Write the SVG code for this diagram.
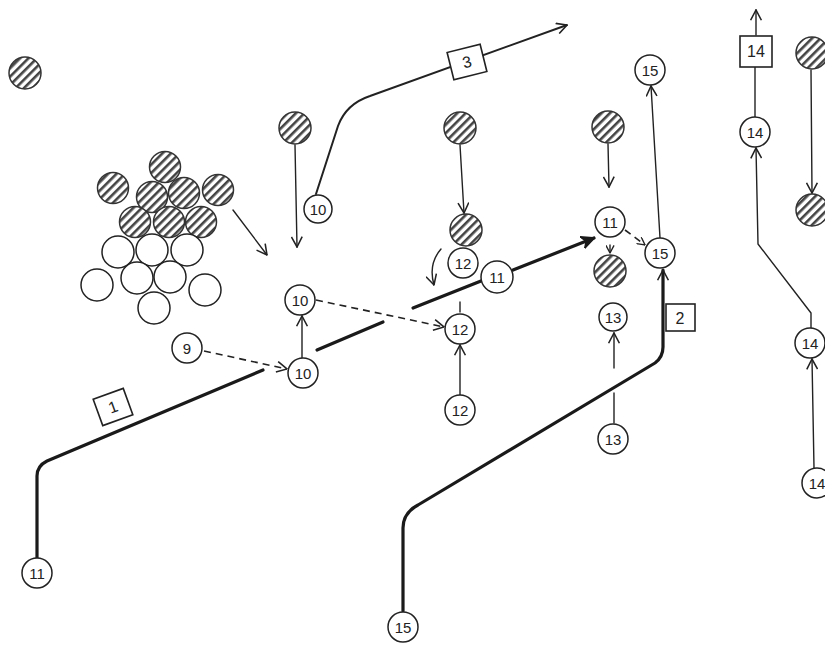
<svg xmlns="http://www.w3.org/2000/svg" width="825" height="650" viewBox="0 0 825 650">
  <style>
    .pl { fill: #fff; stroke: #222; stroke-width: 1.5; }
    .df { fill: url(#hatch); stroke: #333; stroke-width: 1.5; }
    .lb { font-family: "Liberation Sans", Arial, sans-serif; font-size: 15px; fill: #222; text-anchor: middle; dominant-baseline: central; }
    .bl { font-size: 16px; }
    .bx { fill: #fff; stroke: #222; stroke-width: 1.6; }
    .ln { fill: none; stroke: #222; stroke-width: 1.4; stroke-linecap: round; stroke-linejoin: round; }
    .md { fill: none; stroke: #222; stroke-width: 2; stroke-linecap: round; stroke-linejoin: round; }
    .tk { fill: none; stroke: #1a1a1a; stroke-width: 3.2; stroke-linecap: round; stroke-linejoin: round; }
    .ds { fill: none; stroke: #222; stroke-width: 1.6; stroke-dasharray: 7 5; }
  </style>
  <defs>
    <pattern id="hatch" width="6" height="6" patternUnits="userSpaceOnUse" patternTransform="rotate(45)">
      <rect width="6" height="6" fill="#fff"/>
      <rect width="2.6" height="6" fill="#444"/>
    </pattern>
    <marker id="arr" viewBox="0 0 10 10" refX="9.5" refY="5" markerUnits="userSpaceOnUse" markerWidth="12" markerHeight="12" orient="auto">
      <path d="M1,0.5 L9.5,5 L1,9.5" fill="none" stroke="#222" stroke-width="1.3"/>
    </marker>
    <marker id="arrS" viewBox="0 0 10 10" refX="9.5" refY="5" markerUnits="userSpaceOnUse" markerWidth="9" markerHeight="9" orient="auto">
      <path d="M1,0.5 L9.5,5 L1,9.5" fill="none" stroke="#222" stroke-width="1.5"/>
    </marker>
    <marker id="arrT" viewBox="0 0 10 10" refX="9" refY="5" markerUnits="userSpaceOnUse" markerWidth="14" markerHeight="14" orient="auto">
      <path d="M0,0.5 L9.5,5 L0,9.5 L3,5 Z" fill="#1a1a1a" stroke="#1a1a1a" stroke-width="1"/>
    </marker>
  </defs>

  <rect width="825" height="650" fill="#fff"/>

  <!-- connectors -->
  <g id="connectors">
    <!-- route 1 -->
    <path class="tk" d="M37,558 L37,476 Q37,466 47,461 L263,370"/>
    <path class="tk" d="M317,350 L383,322"/>
    <path class="tk" d="M413,308 L481,281"/>
    <path class="tk" d="M513,270 L594,238" marker-end="url(#arrT)"/>
    <!-- route 2 -->
    <path class="tk" d="M403,611 L403,528 Q403,513 418,505 L655,363 Q663,357 663,347 L663,270" marker-end="url(#arr)"/>
    <!-- route 3 -->
    <path class="md" d="M316,194 L338,126 Q346,104 370,96 L567,25" marker-end="url(#arr)"/>
    <!-- dashed passes -->
    <path class="ds" d="M204,351 L287,369" marker-end="url(#arr)"/>
    <path class="ds" d="M316,300 L444,327" marker-end="url(#arr)"/>
    <path class="ds" d="M625,230 L645,245" stroke-dasharray="4 4" marker-end="url(#arrS)"/>
    <!-- thin runs -->
    <path class="ln" d="M302,358 L302,316" marker-end="url(#arr)"/>
    <path class="ln" d="M460,395 L460,345" marker-end="url(#arr)"/>
    <path class="ln" d="M460,302 L460,312"/>
    <path class="ln" d="M441,249 Q428,264 434,285" marker-end="url(#arr)"/>
    <path class="ln" d="M295,145 L297,247" marker-end="url(#arr)"/>
    <path class="ln" d="M233,210 L267,255" marker-end="url(#arr)"/>
    <path class="ln" d="M460,145 L464,213" marker-end="url(#arr)"/>
    <path class="ln" d="M608,144 L609,187" marker-end="url(#arr)"/>
    <path class="ln" d="M610,245 L610,253" marker-end="url(#arrS)"/>
    <path class="ln" d="M660,238 L651,86" marker-end="url(#arr)"/>
    <path class="ln" d="M614,423 L614,393"/>
    <path class="ln" d="M614,368 L614,333" marker-end="url(#arr)"/>
    <path class="ln" d="M756,35 L756,10" marker-end="url(#arr)"/>
    <path class="ln" d="M755,117 L755,67"/>
    <path class="ln" d="M811,328 L811,313 L758,244 L756,148" marker-end="url(#arr)"/>
    <path class="ln" d="M814,468 L812,359" marker-end="url(#arr)"/>
    <path class="ln" d="M811,70 L812,193" marker-end="url(#arr)"/>
  </g>

  <!-- defensive players -->
  <g id="d1"><circle class="df" cx="25" cy="73" r="16"/></g>
  <g id="line-def">
    <circle class="df" cx="165" cy="167" r="15.5"/>
    <circle class="df" cx="113" cy="188" r="15.5"/>
    <circle class="df" cx="218" cy="190" r="15.5"/>
    <circle class="df" cx="152" cy="197" r="15.5"/>
    <circle class="df" cx="184" cy="193" r="15.5"/>
    <circle class="df" cx="135" cy="222" r="15.5"/>
    <circle class="df" cx="169" cy="222" r="15.5"/>
    <circle class="df" cx="201" cy="222" r="15.5"/>
  </g>
  <g id="line-off">
    <circle class="pl" cx="118" cy="252" r="16"/>
    <circle class="pl" cx="152" cy="250" r="16"/>
    <circle class="pl" cx="187" cy="250" r="16"/>
    <circle class="pl" cx="97" cy="285" r="16"/>
    <circle class="pl" cx="137" cy="278" r="16"/>
    <circle class="pl" cx="170" cy="277" r="16"/>
    <circle class="pl" cx="205" cy="290" r="16"/>
    <circle class="pl" cx="154" cy="308" r="16"/>
  </g>
  <g id="d2"><circle class="df" cx="295" cy="128" r="16"/></g>
  <g id="d3"><circle class="df" cx="460" cy="128" r="16"/></g>
  <g id="d4"><circle class="df" cx="466" cy="230" r="16"/></g>
  <g id="d5"><circle class="df" cx="608" cy="127" r="16"/></g>
  <g id="d6"><circle class="df" cx="610" cy="271" r="16"/></g>
  <g id="d7"><circle class="df" cx="812" cy="53" r="16"/></g>
  <g id="d8"><circle class="df" cx="812" cy="210" r="16"/></g>

  <!-- numbered players -->
  <g id="n9"><circle class="pl" cx="187" cy="348" r="15"/><text class="lb" x="187" y="348">9</text></g>
  <g id="n10a"><circle class="pl" cx="303" cy="373" r="15"/><text class="lb" x="303" y="373">10</text></g>
  <g id="n10b"><circle class="pl" cx="300" cy="300" r="15"/><text class="lb" x="300" y="300">10</text></g>
  <g id="n10c"><circle class="pl" cx="318" cy="209" r="14"/><text class="lb" x="318" y="209">10</text></g>
  <g id="n11a"><circle class="pl" cx="37" cy="573" r="15"/><text class="lb" x="37" y="573">11</text></g>
  <g id="n11b"><circle class="pl" cx="497" cy="277" r="16"/><text class="lb" x="497" y="277">11</text></g>
  <g id="n11c"><circle class="pl" cx="610" cy="222" r="15"/><text class="lb" x="610" y="222">11</text></g>
  <g id="n12a"><circle class="pl" cx="463" cy="263" r="15"/><text class="lb" x="463" y="263">12</text></g>
  <g id="n12b"><circle class="pl" cx="460" cy="329" r="15"/><text class="lb" x="460" y="329">12</text></g>
  <g id="n12c"><circle class="pl" cx="460" cy="410" r="15"/><text class="lb" x="460" y="410">12</text></g>
  <g id="n13a"><circle class="pl" cx="613" cy="317" r="14"/><text class="lb" x="613" y="317">13</text></g>
  <g id="n13b"><circle class="pl" cx="613" cy="439" r="15"/><text class="lb" x="613" y="439">13</text></g>
  <g id="n15a"><circle class="pl" cx="650" cy="70" r="15"/><text class="lb" x="650" y="70">15</text></g>
  <g id="n15b"><circle class="pl" cx="660" cy="253" r="15"/><text class="lb" x="660" y="253">15</text></g>
  <g id="n15c"><circle class="pl" cx="403" cy="627" r="15"/><text class="lb" x="403" y="627">15</text></g>
  <g id="n14a"><circle class="pl" cx="755" cy="132" r="15"/><text class="lb" x="755" y="132">14</text></g>
  <g id="n14b"><circle class="pl" cx="810" cy="343" r="15"/><text class="lb" x="810" y="343">14</text></g>
  <g id="n14c"><circle class="pl" cx="817" cy="483" r="15"/><text class="lb" x="817" y="483">14</text></g>

  <!-- route number boxes -->
  <g id="box1" transform="translate(113,407) rotate(-20)"><rect class="bx" x="-16" y="-14" width="32" height="28"/><text class="lb bl" x="0" y="0">1</text></g>
  <g id="box2"><rect class="bx" x="666" y="304" width="29" height="27"/><text class="lb bl" x="680" y="318">2</text></g>
  <g id="box3" transform="translate(467,62) rotate(-14)"><rect class="bx" x="-17" y="-14" width="34" height="28"/><text class="lb bl" x="0" y="0">3</text></g>
  <g id="box4"><rect class="bx" x="740" y="36" width="32" height="31"/><text class="lb bl" x="756" y="51">14</text></g>
</svg>
